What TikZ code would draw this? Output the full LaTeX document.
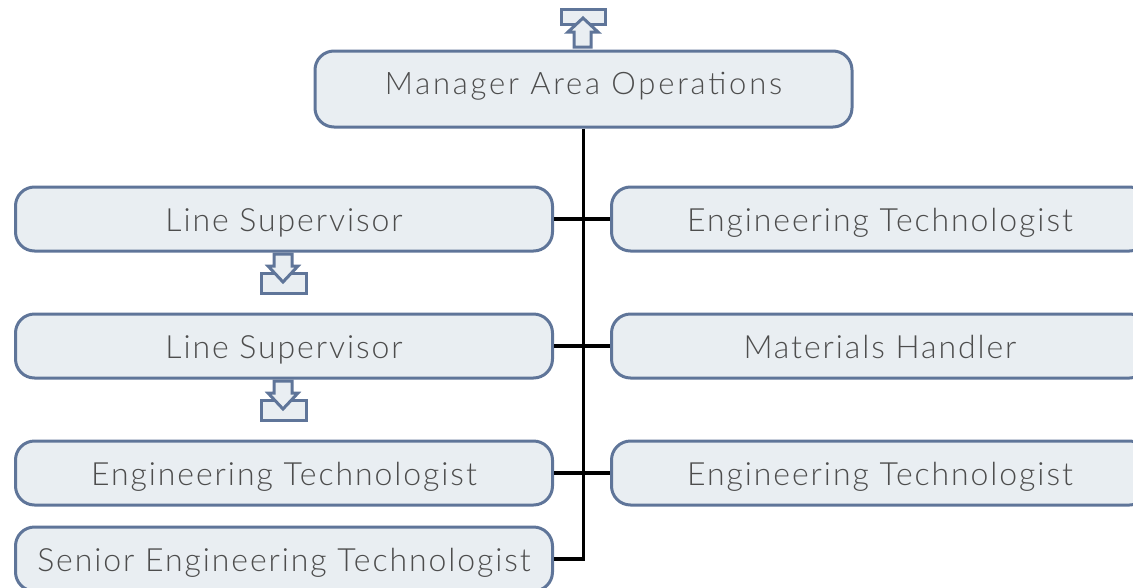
\documentclass[tikz,border=0pt]{standalone}
\usepackage{fontspec}
\setmainfont{Lato Light}[LetterSpace=6]
\newfontfamily\topfont{Lato Light}[LetterSpace=9]
\definecolor{bordc}{HTML}{5F7599}
\definecolor{fillc}{HTML}{E9EEF2}
\definecolor{txtc}{HTML}{4D4D4D}
\begin{document}
\begin{tikzpicture}[x=1pt,y=-1pt,
  box/.style={draw=bordc, fill=fillc, line width=3pt, rounded corners=19pt,
    minimum width=537pt, minimum height=64pt, inner sep=0pt,
    text height=24pt, text depth=0pt,
    font=\fontsize{32}{35}\selectfont, text=txtc},
  topbox/.style={box, minimum height=76pt, text height=10pt,
    font=\topfont\fontsize{31}{34}\selectfont},
  conn/.style={line width=3.2pt, black},
  icon/.style={draw=bordc, fill=fillc, line width=3pt, line join=miter}]
\useasboundingbox (0,0) rectangle (1133,587);
\clip (0,0) rectangle (1133,587);
\node[topbox] (top) at (583.5,89) {Manager Area Operations};
\node[box] (L1) at (284,219) {Line Supervisor};
\node[box] (L2) at (284,346) {Line Supervisor};
\node[box] (L3) at (284,473) {Engineering Technologist};
\node[box] (L4) at (284,559) {Senior Engineering Technologist};
\node[box] (R1) at (880,219) {Engineering Technologist};
\node[box] (R2) at (880,346) {Materials Handler};
\node[box] (R3) at (880,473) {Engineering Technologist};
% connectors
\draw[conn] (top.south) |- (L4.east);
\draw[conn] (L1.east) -- (R1.west);
\draw[conn] (L2.east) -- (R2.west);
\draw[conn] (L3.east) -- (R3.west);
% top icon
\draw[icon] (561,9) rectangle (605,24);
\draw[icon] (574,47) -- (574,32) -- (568,32) -- (583,18) -- (598,32) -- (591,32) -- (591,47) -- cycle;
% down icons
\foreach \dy in {0,127}{
  \draw[icon] (261,273+\dy) rectangle (306,293+\dy);
  \draw[icon] (274,254+\dy) -- (292,254+\dy) -- (292,266+\dy) -- (298,266+\dy) -- (283,282+\dy) -- (268,266+\dy) -- (274,266+\dy) -- cycle;
}
\end{tikzpicture}
\end{document}
